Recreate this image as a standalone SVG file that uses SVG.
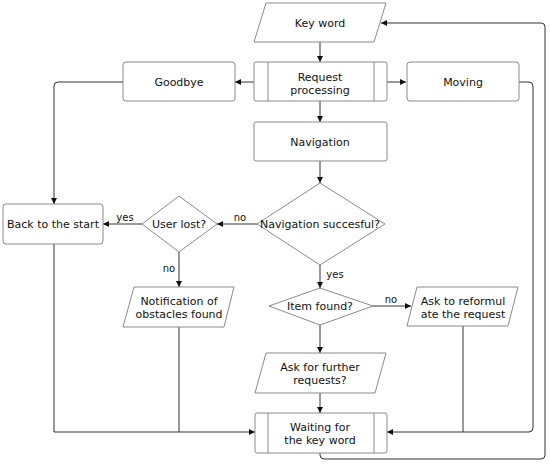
<svg xmlns="http://www.w3.org/2000/svg" width="550" height="464" viewBox="0 0 550 464">
<defs>
<marker id="arr" markerWidth="6" markerHeight="6" refX="6" refY="3" orient="auto" markerUnits="userSpaceOnUse"><path d="M0,0 L6,3 L0,6 z" fill="#111"/></marker>
<style>
.n{fill:#fff;stroke:#8a8a8a;stroke-width:1;stroke-linejoin:round}
.c{fill:none;stroke:#333;stroke-width:1}
.a{marker-end:url(#arr)}
text{font-family:"DejaVu Sans",Verdana,sans-serif;font-size:11px;fill:#111;text-anchor:middle;dominant-baseline:central}
.l{font-size:10px}
</style>
</defs>
<rect width="550" height="464" fill="#fff"/>
<g id="connectors">
<path class="c a" d="M320,42 V62"/>
<path class="c a" d="M254,82 H235"/>
<path class="c a" d="M387,82 H406"/>
<path class="c a" d="M320,101 V122"/>
<path class="c a" d="M123,82 H58 Q54,82 54,86 V204"/>
<path class="c a" d="M320,161 V183"/>
<path class="c a" d="M257,224 H217"/>
<path class="c a" d="M142,224 H103"/>
<path class="c a" d="M179,252 V287"/>
<path class="c a" d="M320,265 V288"/>
<path class="c a" d="M373,306 H411"/>
<path class="c a" d="M320,325 V353"/>
<path class="c a" d="M320,393 V413"/>
<path class="c a" d="M54,244 V432 H255"/>
<path class="c" d="M179,327 V432"/>
<path class="c a" d="M519,82 H529 Q533,82 533,86 V428 Q533,432 529,432 H387"/>
<path class="c" d="M463,326 V432"/>
<path class="c a" d="M320,453 V455 Q320,459 324,459 H541 Q545,459 545,455 V27 Q545,23 541,23 H381"/>
<text class="l" x="240" y="217">no</text>
<text class="l" x="125" y="217">yes</text>
<text class="l" x="169" y="268">no</text>
<text class="l" x="335" y="274">yes</text>
<text class="l" x="391" y="299">no</text>
</g>
<g id="keyword"><path class="n" d="M266,3 H386 L374,42 H254 Z"/><text x="320" y="23">Key word</text></g>
<g id="request"><rect class="n" x="254" y="62" width="133" height="39" rx="2"/><path class="n" d="M268,62 V101 M374,62 V101"/><text x="320" y="77">Request</text><text x="320" y="90">processing</text></g>
<g id="goodbye"><rect class="n" x="123" y="62" width="112" height="39" rx="3"/><text x="179" y="82">Goodbye</text></g>
<g id="moving"><rect class="n" x="407" y="62" width="112" height="39" rx="3"/><text x="463" y="82">Moving</text></g>
<g id="navigation"><rect class="n" x="254" y="122" width="133" height="39" rx="2"/><text x="320" y="142">Navigation</text></g>
<g id="navsuccess"><path class="n" d="M320,183 L385,224 L320,265 L257,224 Z"/><text x="320" y="224">Navigation succesful?</text></g>
<g id="userlost"><path class="n" d="M179,196 L217,224 L179,252 L142,224 Z"/><text x="179" y="224">User lost?</text></g>
<g id="backstart"><rect class="n" x="3" y="204" width="100" height="40" rx="3"/><text x="53" y="224">Back to the start</text></g>
<g id="notification"><path class="n" d="M134,287 H234 L224,327 H123 Z"/><text x="179" y="301">Notification of</text><text x="179" y="314">obstacles found</text></g>
<g id="itemfound"><path class="n" d="M320,288 L373,306 L320,325 L269,306 Z"/><text x="320" y="306">Item found?</text></g>
<g id="reformulate"><path class="n" d="M417,287 H518 L508,326 H407 Z"/><text x="463" y="301">Ask to reformul</text><text x="463" y="314">ate the request</text></g>
<g id="further"><path class="n" d="M266,353 H386 L375,393 H255 Z"/><text x="320" y="367">Ask for further</text><text x="320" y="380">requests?</text></g>
<g id="waiting"><rect class="n" x="255" y="413" width="132" height="40" rx="2"/><path class="n" d="M268,413 V453 M374,413 V453"/><text x="320" y="427">Waiting for</text><text x="320" y="440">the key word</text></g>
</svg>
